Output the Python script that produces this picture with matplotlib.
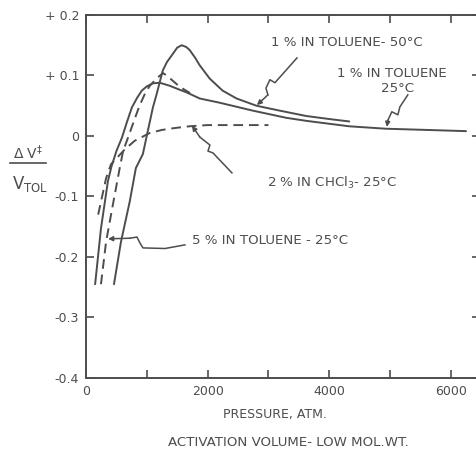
import matplotlib
matplotlib.use("Agg")
import matplotlib.pyplot as plt
from matplotlib.lines import Line2D
from matplotlib.ticker import MultipleLocator

# --- data (pressure in atm, dV/V_tol) ---
p_50c = [460, 575, 720, 820, 935, 1016, 1100, 1164, 1262, 1330, 1430, 1500, 1574,
         1650, 1705, 1790, 1869, 2033, 2246, 2475, 2803, 3180, 3623, 4000, 4330]
dv_50c = [-0.245, -0.175, -0.108, -0.053, -0.03, 0.008, 0.047, 0.07, 0.108, 0.122, 0.136,
          0.146, 0.150, 0.147, 0.142, 0.130, 0.117, 0.095, 0.075, 0.062, 0.050, 0.042,
          0.033, 0.028, 0.024]

p_25c = [150, 246, 360, 420, 500, 590, 670, 754, 840, 918, 1000, 1100, 1213, 1377, 1525,
         1656, 1869, 2197, 2738, 3295, 3623, 4330, 4930, 5600, 6250]
dv_25c = [-0.245, -0.153, -0.075, -0.05, -0.025, -0.003, 0.022, 0.047, 0.063, 0.075, 0.082,
          0.087, 0.088, 0.083, 0.077, 0.072, 0.062, 0.055, 0.042, 0.030, 0.025, 0.016,
          0.012, 0.010, 0.008]

p_5pct = [246, 330, 443, 560, 610, 690, 800, 880, 970, 1050, 1160, 1266, 1340, 1430,
          1510, 1595, 1710]
dv_5pct = [-0.245, -0.175, -0.113, -0.05, -0.025, -0.003, 0.028, 0.05, 0.07, 0.083, 0.095,
           0.104, 0.099, 0.091, 0.084, 0.078, 0.071]

p_chcl3 = [200, 330, 410, 520, 640, 800, 1050, 1250, 1450, 1700, 2000, 2500, 3000]
dv_chcl3 = [-0.13, -0.07, -0.047, -0.035, -0.022, -0.008, 0.005, 0.01, 0.013, 0.016,
            0.018, 0.018, 0.018]

x_ticks = [0, 2000, 4000, 6000]
y_ticks = [-0.4, -0.3, -0.2, -0.1, 0, 0.1, 0.2]
y_ticklabels = ['-0.4', '-0.3', '-0.2', '-0.1', '0', '+ 0.1', '+ 0.2']

# hand drawn squiggly pointers (data coords), last point is the arrow tip
ptr_50c = [(3470, 0.129), (3222, 0.101), (3107, 0.088), (3025, 0.093), (2959, 0.079),
           (2992, 0.068), (2811, 0.051)]
ptr_25c = [(5293, 0.068), (5162, 0.048), (5129, 0.035), (5030, 0.040), (4965, 0.026),
           (4948, 0.015)]
ptr_chcl3 = [(2400, -0.061), (2088, -0.028), (2006, -0.025), (2038, -0.015),
             (1874, -0.002), (1743, 0.017)]
ptr_5pct = [(1627, -0.180), (1300, -0.186), (937, -0.185), (888, -0.177), (838, -0.167),
            (723, -0.169), (362, -0.170)]

ink = '#4d4d4d'
plt.rcParams['font.family'] = ['DejaVu Sans']

fig = plt.figure(figsize=(4.77, 4.51), dpi=100)
ax = fig.add_axes([0.1803, 0.1619, 0.826, 0.8049])

lw = 1.4
dash = (0, (5, 3))
ax.plot(p_50c, dv_50c, color=ink, lw=lw, solid_capstyle='round')
ax.plot(p_25c, dv_25c, color=ink, lw=lw, solid_capstyle='round')
ax.plot(p_5pct, dv_5pct, color=ink, lw=lw, linestyle=dash)
ax.plot(p_chcl3, dv_chcl3, color=ink, lw=lw, linestyle=dash)

# pointers
for pts in [ptr_50c, ptr_25c, ptr_chcl3, ptr_5pct]:
    xs = [p[0] for p in pts]
    ys = [p[1] for p in pts]
    ax.plot(xs[:-1], ys[:-1], color=ink, lw=1.1)
    ax.annotate('', xy=pts[-1], xytext=pts[-2],
                arrowprops=dict(arrowstyle='-|>', color=ink, lw=1.1,
                                mutation_scale=7, shrinkA=0, shrinkB=0))

# labels on curves
fs = 9.6
ax.text(4291, 0.155, '1 % IN TOLUENE- 50°C', ha='center', va='center', fontsize=fs, color=ink)
ax.text(5030, 0.104, '1 % IN TOLUENE', ha='center', va='center', fontsize=fs, color=ink)
ax.text(5129, 0.079, '25°C', ha='center', va='center', fontsize=fs, color=ink)
ax.text(4044, -0.078, r'2 % IN CHCl$_3$- 25°C', ha='center', va='center', fontsize=fs,
        color=ink)
ax.text(1743, -0.172, '5 % IN TOLUENE - 25°C', ha='left', va='center', fontsize=fs,
        color=ink)

ax.set_xlim(0, 6480)
ax.set_ylim(-0.4, 0.2)
ax.set_xticks(x_ticks)
ax.xaxis.set_minor_locator(MultipleLocator(1000))
ax.set_yticks(y_ticks)
ax.set_yticklabels(y_ticklabels)
ax.tick_params(which='both', direction='in', length=6, width=1.2, color=ink,
               top=True, right=True, labelsize=9, labelcolor=ink, pad=5)
for s in ax.spines.values():
    s.set_color(ink)
    s.set_linewidth(1.4)

# y axis label as a fraction
fig.text(0.060, 0.662, r'$\mathregular{\Delta\ V^{\ddag}}$', ha='center', va='center',
         fontsize=10, color=ink)
fig.add_artist(Line2D([0.021, 0.096], [0.639, 0.639], color=ink, lw=1.2))
fig.text(0.063, 0.592, r'$\mathregular{V_{TOL}}$', ha='center', va='center', fontsize=12,
         color=ink)

fig.text(0.577, 0.080, 'PRESSURE, ATM.', ha='center', va='center', fontsize=9, color=ink)
fig.text(0.604, 0.018, 'ACTIVATION VOLUME- LOW MOL.WT.', ha='center', va='center',
         fontsize=9.6, color=ink)

fig.savefig('out.png', dpi=100, facecolor='white')
